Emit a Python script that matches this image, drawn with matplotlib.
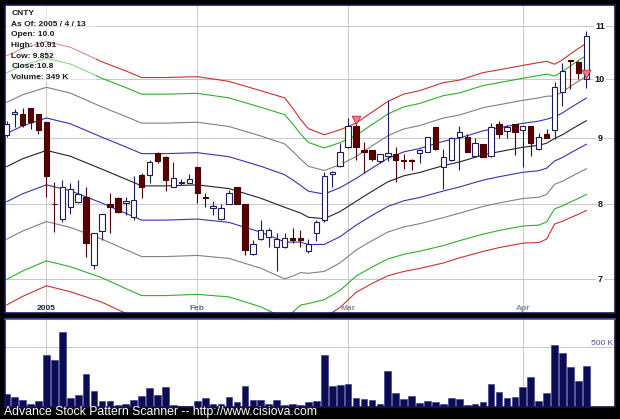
import matplotlib.pyplot as plt
from matplotlib.patches import Rectangle
from matplotlib.ticker import NullLocator
from matplotlib.transforms import blended_transform_factory

plt.rcParams['font.family'] = ['Liberation Sans', 'DejaVu Sans']

# daily candles, 2004-12-27 .. 2005-04-13 (index = trading day)
opens = [9.06, 9.40, 9.41, 9.50, 9.40, 9.27, 8.01, 7.80, 7.97, 8.04,
         8.11, 7.18, 7.63, 8.01, 8.10, 8.02, 7.83, 8.43, 8.43, 8.77,
         8.71, 8.26, 8.31, 8.32, 8.56, 8.11, 7.95, 7.79, 8.00, 8.25,
         8.01, 7.32, 7.52, 7.55, 7.42, 7.41, 7.53, 7.53, 7.36, 7.61,
         7.78, 8.45, 8.57, 8.87, 9.20, 8.81, 8.81, 8.65, 8.73, 8.76,
         8.66, 8.66, 8.77, 8.79, 9.18, 8.55, 8.66, 9.02, 9.02, 8.73,
         8.91, 8.73, 9.23, 9.12, 9.24, 9.14, 9.20, 8.83, 9.07, 9.14,
         9.77, 10.35, 10.32, 10.00]
highs = [9.28, 9.48, 9.50, 9.50, 9.40, 9.27, 8.33, 8.36, 8.31, 8.36,
         8.25, 7.61, 7.86, 8.17, 8.11, 8.11, 8.41, 8.46, 8.66, 8.79,
         8.72, 8.63, 8.37, 8.45, 8.56, 8.16, 8.05, 8.01, 8.21, 8.25,
         8.01, 7.51, 7.78, 7.67, 7.60, 7.60, 7.67, 7.64, 7.52, 7.78,
         8.48, 8.50, 8.92, 9.33, 9.33, 8.95, 8.81, 8.75, 9.64, 8.87,
         8.76, 8.67, 8.84, 9.02, 9.18, 8.83, 9.02, 9.20, 9.08, 9.00,
         8.91, 9.25, 9.29, 9.22, 9.24, 9.20, 9.20, 9.09, 9.16, 9.95,
         10.29, 10.36, 10.33, 10.91]
lows = [9.03, 9.19, 9.19, 9.16, 9.08, 8.11, 7.62, 7.76, 7.87, 8.02,
        7.29, 7.13, 7.51, 7.60, 7.88, 7.85, 7.78, 8.10, 8.31, 8.61,
        8.20, 8.25, 8.28, 8.31, 8.02, 7.97, 7.85, 7.78, 8.00, 8.00,
        7.31, 7.31, 7.51, 7.42, 7.10, 7.40, 7.47, 7.42, 7.34, 7.49,
        7.76, 8.26, 8.56, 8.85, 8.66, 8.46, 8.65, 8.62, 8.64, 8.33,
        8.52, 8.51, 8.61, 8.78, 8.82, 8.23, 8.64, 8.51, 8.78, 8.72,
        8.70, 8.71, 9.00, 9.00, 8.74, 8.56, 8.72, 8.82, 9.00, 8.99,
        9.53, 9.83, 10.00, 9.852]
closes = [9.24, 9.44, 9.22, 9.27, 9.14, 8.41, 8.00, 8.26, 8.22, 8.15,
          7.47, 7.61, 7.86, 7.97, 7.89, 8.05, 8.07, 8.25, 8.63, 8.64,
          8.36, 8.38, 8.33, 8.37, 8.17, 8.09, 7.98, 7.95, 8.16, 8.01,
          7.37, 7.45, 7.65, 7.64, 7.52, 7.53, 7.51, 7.51, 7.45, 7.76,
          8.41, 8.48, 8.79, 9.20, 8.87, 8.79, 8.67, 8.75, 8.77, 8.66,
          8.64, 8.64, 8.82, 9.02, 8.83, 8.70, 9.01, 9.10, 8.78, 8.92,
          8.70, 9.18, 9.08, 9.18, 9.10, 9.20, 8.92, 9.02, 9.01, 9.86,
          10.16, 10.34, 10.12, 10.80]
# volume in thousands
volumes = [112, 84, 62, 28, 48, 440, 398, 626, 73, 104,
           275, 132, 48, 48, 14, 28, 62, 90, 163, 98,
           168, 14, 8, 8, 48, 73, 22, 22, 81, 39,
           174, 56, 56, 22, 56, 14, 28, 14, 42, 48,
           435, 180, 185, 191, 73, 67, 56, 28, 303, 115,
           70, 90, 36, 48, 42, 28, 79, 67, 14, 28,
           45, 191, 126, 73, 81, 168, 250, 48, 115, 522,
           452, 334, 216, 345]

# centre line of the bands and band unit, read at these indices
band_idx = [0, 2, 5, 8, 12, 15, 17, 20, 24, 28, 32, 35, 36, 37, 38, 40,
            42, 44, 46, 48, 50, 52, 55, 57, 60, 62, 65, 67, 68, 69, 70,
            71, 72, 73]
band_mid = [8.56, 8.68, 8.81, 8.72, 8.52, 8.37, 8.27, 8.27, 8.285, 8.23,
            8.09, 7.96, 7.92, 7.88, 7.82, 7.80, 7.90, 8.045, 8.19, 8.33,
            8.42, 8.47, 8.575, 8.63, 8.74, 8.79, 8.86, 8.89, 8.925, 9.00,
            9.06, 9.14, 9.215, 9.29]
band_w = [0.52, 0.525, 0.525, 0.52, 0.50, 0.495, 0.49, 0.49, 0.49, 0.482,
          0.475, 0.477, 0.44, 0.398, 0.372, 0.35, 0.345, 0.335, 0.345, 0.357,
          0.367, 0.37, 0.38, 0.377, 0.384, 0.384, 0.387, 0.393, 0.39, 0.354,
          0.36, 0.368, 0.376, 0.382]
band_mult = [1, 2, 3, 3.6]
band_colors = ['#3434b4', '#808080', '#2fae2f', '#cc3030']

month_idx = [5, 24, 43, 65]
month_labels = ['2005', 'Feb', 'Mar', 'Apr']
month_colors = ['#20203a', '#6a6a6a', '#8a8a8a', '#8a8a8a']
price_ticks = [7, 8, 9, 10, 11]
signal_idx = [44, 73]
signal_price = [9.30, 10.09]
info_lines = ['CNTY', 'As Of: 2005 / 4 / 13', 'Open: 10.0', 'High: 10.91',
              'Low: 9.852', 'Close:10.8', 'Volume: 349 K']

W, H = 620, 419
fig = plt.figure(figsize=(6.2, 4.19), dpi=100, facecolor='black')
ax = fig.add_axes([4.5 / W, 1 - 313 / H, 610 / W, 308 / H])
axv = fig.add_axes([4.5 / W, 1 - 407 / H, 610 / W, 88 / H])

# ---- price panel
ax.set_yscale('log')
ax.set_ylim(6.592, 11.42)
ax.set_xlim(-0.28, 76.55)
for a in (ax, axv):
    a.xaxis.set_major_locator(NullLocator())
    a.xaxis.set_minor_locator(NullLocator())
    a.yaxis.set_major_locator(NullLocator())
    a.yaxis.set_minor_locator(NullLocator())
    for s in a.spines.values():
        s.set_color('#16165e')
        s.set_linewidth(1.2)

for p in price_ticks:
    ax.axhline(p, color='#c8c8c8', lw=0.7, zorder=0)
for m in month_idx:
    ax.axvline(m, color='#c8c8c8', lw=0.7, zorder=0)

# bands
ax.plot(band_idx, band_mid, color='#222222', lw=0.8, zorder=1)
for k, col in zip(band_mult, band_colors):
    up = [m + k * w for m, w in zip(band_mid, band_w)]
    dn = [m - k * w for m, w in zip(band_mid, band_w)]
    ax.plot(band_idx, up, color=col, lw=0.8, zorder=1)
    ax.plot(band_idx, dn, color=col, lw=0.8, zorder=1)

# candles
for i in range(len(opens)):
    o, h, l, c = opens[i], highs[i], lows[i], closes[i]
    up = c >= o
    col = '#1c1c5c' if up else '#4a0000'
    ax.vlines(i, l, h, color=col, lw=0.8, zorder=2)
    lo, hi = min(o, c), max(o, c)
    ax.bar(i, hi - lo, bottom=lo, width=0.68,
           color='white' if up else '#5a0000', edgecolor=col,
           linewidth=0.8, zorder=3)

ax.scatter(signal_idx, signal_price, marker='v', s=38, color='#f47c7c',
           edgecolor='#b03030', linewidth=0.6, zorder=4)

ty = blended_transform_factory(ax.transAxes, ax.transData)
for p in price_ticks:
    ax.text(0.976, p, str(p), transform=ty, ha='center', va='center',
            fontsize=6.5, fontweight='bold', color='#111111',
            bbox=dict(facecolor='white', edgecolor='none', pad=1.0))
tx = blended_transform_factory(ax.transData, ax.transAxes)
for m, lab, col in zip(month_idx, month_labels, month_colors):
    ax.text(m, 0.016, lab, transform=tx, ha='center', va='center',
            fontsize=6, fontweight='bold', color=col)

# washed box behind the quote text
ax.add_patch(Rectangle((0, 0.75), 0.15, 0.25, transform=ax.transAxes,
                       facecolor='white', edgecolor='none', alpha=0.45, zorder=1.5))
for n, line in enumerate(info_lines):
    ax.text(0.011, 0.971 - n * 0.0342, line, transform=ax.transAxes,
            ha='left', va='center', fontsize=6, fontweight='bold',
            color='#1a1a1a', zorder=5)

# ---- volume panel
axv.set_xlim(-0.28, 76.55)
axv.set_ylim(0, 738)
axv.axhline(500, color='#c8c8c8', lw=0.7, zorder=0)
for m in month_idx:
    axv.axvline(m, color='#c8c8c8', lw=0.7, zorder=0)
axv.bar(range(len(volumes)), volumes, width=0.84, color='#0c0c55',
        edgecolor='#30308a', linewidth=0.4, zorder=2)
axv.spines['top'].set_color('#4a4ab8')
axv.text(0.997, 500, '500 K', transform=blended_transform_factory(axv.transAxes, axv.transData),
         ha='right', va='bottom', fontsize=6, color='#4d4da6')

fig.text(4 / W, 1 - 412 / H, 'Advance Stock Pattern Scanner -- http://www.cisiova.com',
         color='white', fontsize=8.8, ha='left', va='center')

fig.savefig('out.png', dpi=100, facecolor='black')
